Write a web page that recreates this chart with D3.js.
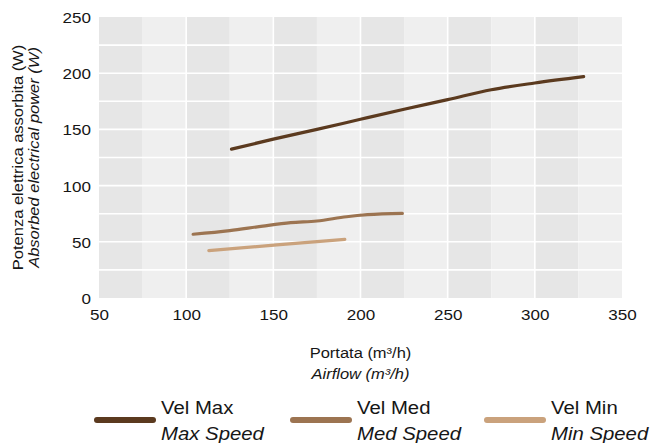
<!DOCTYPE html>
<html>
<head>
<meta charset="utf-8">
<script src="https://cdn.jsdelivr.net/npm/d3@7"></script>
<style>
  html, body { margin: 0; padding: 0; background: #ffffff; }
  svg { display: block; }
  text { font-family: "Liberation Sans", Arial, sans-serif; fill: #161616; }
</style>
</head>
<body>
<svg id="chart" width="654" height="443"></svg>
<script>
// ---- data ----
const seriesNames = ["Vel Max", "Vel Med", "Vel Min"];
const seriesNamesEn = ["Max Speed", "Med Speed", "Min Speed"];
const seriesColors = ["#5b3a1f", "#9c7451", "#caa27c"];

const airflowMax = [126, 150, 175, 200, 225, 250, 275, 300, 328];
const powerMax   = [132.5, 141.3, 150, 159, 167.9, 176.5, 185.3, 191.3, 196.9];

const airflowMed = [104, 125, 144, 160, 175, 192, 204, 224];
const powerMed   = [56.7, 59.9, 64, 67, 68.5, 72.3, 74.1, 75.3];

const airflowMin = [113, 152, 191];
const powerMin   = [42.1, 47.2, 52.2];

const xTicks = [50, 100, 150, 200, 250, 300, 350];
const yTicks = [0, 50, 100, 150, 200, 250];
const xTitle = ["Portata (m³/h)", "Airflow (m³/h)"];
const yTitle = ["Potenza elettrica assorbita (W)", "Absorbed electrical power (W)"];

// ---- layout ----
const svg = d3.select("#chart");
const pL = 99, pR = 622, pT = 17, pB = 298;
const x = d3.scaleLinear().domain([50, 350]).range([pL, pR]);
const y = d3.scaleLinear().domain([0, 250]).range([pB, pT]);
const SX = 1.1; // horizontal text widening

// background bands (every 25 on x, alternating)
const bandEdges = d3.range(50, 350, 25);
svg.append("g").selectAll("rect").data(bandEdges).join("rect")
  .attr("x", d => x(d)).attr("y", pT)
  .attr("width", d => x(d + 25) - x(d)).attr("height", pB - pT)
  .attr("fill", (d, i) => i % 2 === 0 ? "#e6e6e6" : "#efefef");

// grid lines
const grid = svg.append("g");
grid.selectAll("line.h").data(d3.range(25, 250, 25)).join("line")
  .attr("x1", pL).attr("x2", pR)
  .attr("y1", d => y(d)).attr("y2", d => y(d))
  .attr("stroke", "#ffffff").attr("stroke-width", 1.6);
grid.selectAll("line.v").data(xTicks.slice(1, -1)).join("line")
  .attr("x1", d => x(d)).attr("x2", d => x(d))
  .attr("y1", pT).attr("y2", pB)
  .attr("stroke", "#ffffff").attr("stroke-width", 1.6);

// axes (labels only)
const xAxis = d3.axisBottom(x).tickValues(xTicks).tickSize(0).tickPadding(0);
const gx = svg.append("g").attr("transform", `translate(0,${pB})`).call(xAxis);
gx.select(".domain").remove();
gx.selectAll(".tick text")
  .attr("y", 22).attr("dy", 0)
  .attr("font-size", 15.5).attr("fill", "#161616")
  .attr("font-family", "Liberation Sans, Arial, sans-serif")
  .attr("transform", `scale(${SX},1)`)
  .attr("x", 0);

const yAxis = d3.axisLeft(y).tickValues(yTicks).tickSize(0).tickPadding(0);
const gy = svg.append("g").attr("transform", `translate(91,0)`).call(yAxis);
gy.select(".domain").remove();
gy.selectAll(".tick text")
  .attr("x", 0).attr("dy", "0.36em")
  .attr("font-size", 15.5).attr("fill", "#161616")
  .attr("font-family", "Liberation Sans, Arial, sans-serif")
  .attr("transform", `scale(${SX},1)`);

// axis titles
const cx = (pL + pR) / 2;
svg.append("text").attr("transform", `translate(${cx},358) scale(${SX},1)`)
  .attr("text-anchor", "middle").attr("font-size", 15).text(xTitle[0]);
svg.append("text").attr("transform", `translate(${cx},379) scale(${SX},1)`)
  .attr("text-anchor", "middle").attr("font-size", 15).attr("font-style", "italic").text(xTitle[1]);

const cy = (pT + pB) / 2;
svg.append("text").attr("transform", `translate(23,${cy}) rotate(-90) scale(${SX},1)`)
  .attr("text-anchor", "middle").attr("font-size", 15).text(yTitle[0]);
svg.append("text").attr("transform", `translate(39,${cy}) rotate(-90) scale(${SX},1)`)
  .attr("text-anchor", "middle").attr("font-size", 15).attr("font-style", "italic").text(yTitle[1]);

// lines
const series = [
  { xs: airflowMax, ys: powerMax },
  { xs: airflowMed, ys: powerMed },
  { xs: airflowMin, ys: powerMin }
];
const line = d3.line().x(d => x(d[0])).y(d => y(d[1])).curve(d3.curveMonotoneX);
svg.append("g").selectAll("path").data(series).join("path")
  .attr("d", s => line(s.xs.map((v, i) => [v, s.ys[i]])))
  .attr("fill", "none")
  .attr("stroke", (s, i) => seriesColors[i])
  .attr("stroke-width", 3.2)
  .attr("stroke-linecap", "round")
  .attr("stroke-linejoin", "round");

// legend
const legendX = [95, 291, 485];
const lg = svg.append("g").selectAll("g").data(seriesNames).join("g")
  .attr("transform", (d, i) => `translate(${legendX[i]},0)`);
lg.append("line").attr("x1", 2).attr("x2", 58).attr("y1", 420).attr("y2", 420)
  .attr("stroke", (d, i) => seriesColors[i]).attr("stroke-width", 6).attr("stroke-linecap", "round");
lg.append("text").attr("transform", `translate(66,414) scale(1.1,1)`)
  .attr("font-size", 18.5).text(d => d);
lg.append("text").attr("transform", `translate(66,440) scale(1.1,1)`)
  .attr("font-size", 18.5).attr("font-style", "italic").text((d, i) => seriesNamesEn[i]);
</script>
</body>
</html>
